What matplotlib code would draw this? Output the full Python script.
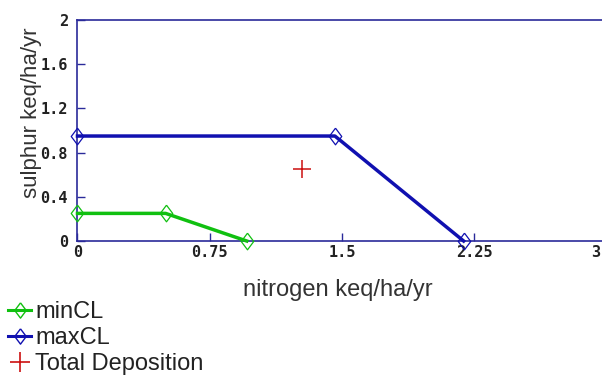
import matplotlib
matplotlib.use('Agg')
import matplotlib.pyplot as plt
from matplotlib.lines import Line2D
from matplotlib.transforms import ScaledTranslation

# critical load function (keq/ha/yr)
min_n = [0, 0.5, 0.96]
min_s = [0.25, 0.25, 0]
max_n = [0, 1.46, 2.19]
max_s = [0.95, 0.95, 0]
dep_n = [1.275]
dep_s = [0.65]

x_ticks = [0, 0.75, 1.5, 2.25, 3]
x_labels = ['0', '0.75', '1.5', '2.25', '3']
y_ticks = [0, 0.4, 0.8, 1.2, 1.6, 2]
y_labels = ['0', '0.4', '0.8', '1.2', '1.6', '2']

green = '#10c010'
blue = '#1010b0'
red = '#cc1010'
axis_col = '#2a2a9a'

# upright diamond, a bit taller than wide
diamond = [(0, 1), (0.75, 0), (0, -1), (-0.75, 0), (0, 1)]

fig = plt.figure(figsize=(6.02, 3.78), dpi=100)
# x axis runs slightly past the right edge of the figure
ax = fig.add_axes([0.1287, 0.3624, 0.8787, 0.5847])

ax.plot(min_n, min_s, color=green, lw=2.5, marker=diamond, ms=12, mfc='none',
        mec=green, mew=0.9, clip_on=False, zorder=3)
ax.plot(max_n, max_s, color=blue, lw=2.5, marker=diamond, ms=12, mfc='none',
        mec=blue, mew=0.9, clip_on=False, zorder=3)
ax.plot(dep_n, dep_s, ls='none', marker='+', ms=13, mew=1.1, color=red,
        zorder=3)

ax.set_xlim(0, 3)
ax.set_ylim(0, 2)
ax.set_xticks(x_ticks)
ax.set_xticklabels(x_labels)
ax.set_yticks(y_ticks)
ax.set_yticklabels(y_labels)
ax.tick_params(direction='in', length=6, width=1.0, color=axis_col,
               labelsize=11)
ax.tick_params(axis='x', pad=3)
ax.tick_params(axis='y', pad=7)
for lab in ax.get_xticklabels() + ax.get_yticklabels():
    lab.set_family('DejaVu Sans Mono')
    lab.set_weight('bold')
    lab.set_color('#222222')

# pull the last x label back inside the figure
last = ax.get_xticklabels()[-1]
last.set_transform(last.get_transform() +
                   ScaledTranslation(-11 / 100, 0, fig.dpi_scale_trans))

for side in ['left', 'bottom', 'top']:
    ax.spines[side].set_color(axis_col)
    ax.spines[side].set_linewidth(1.2)
ax.spines['right'].set_visible(False)

ax.set_xlabel('nitrogen keq/ha/yr', family='Liberation Sans', size=17,
              color='#333333')
ax.set_ylabel('sulphur keq/ha/yr', family='Liberation Sans', size=16,
              color='#333333')
ax.xaxis.set_label_coords(0.4915, -0.17)
ax.yaxis.set_label_coords(-0.067, 0.58)

handles = [
    Line2D([], [], color=green, lw=2.2, marker=diamond, ms=11, mfc='none',
           mec=green),
    Line2D([], [], color=blue, lw=2.2, marker=diamond, ms=11, mfc='none',
           mec=blue),
    Line2D([], [], ls='none', marker='+', ms=15, mew=1.2, color=red),
]
fig.legend(handles, ['minCL', 'maxCL', 'Total Deposition'],
           loc='upper left', bbox_to_anchor=(0.013, 0.203), frameon=False,
           handlelength=1.0, handletextpad=0.17, labelspacing=0.17,
           borderpad=0, borderaxespad=0,
           prop=dict(family='Liberation Sans', size=17),
           labelcolor='#222222')

fig.savefig('out.png', dpi=100)
